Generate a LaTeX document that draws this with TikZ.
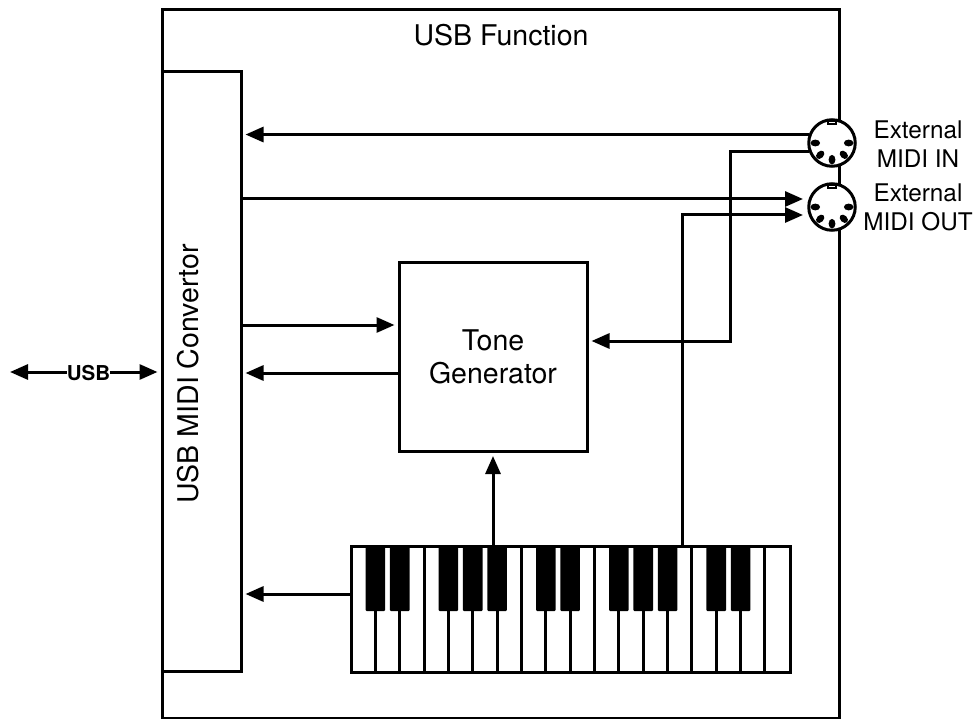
\documentclass[tikz,border=0pt]{standalone}
\usepackage{fontspec}
\setmainfont{TeX Gyre Heros}
\usetikzlibrary{arrows.meta}
\tikzstyle{block}=[rectangle, draw, line width=3pt, inner sep=0pt]
\tikzstyle{din}=[circle, draw, fill=white, line width=3pt, inner sep=0pt, minimum size=46.5pt]
\tikzstyle{wire}=[line width=3pt]
\tikzstyle{arrow}=[wire, -{Triangle[length=18pt,width=15pt]}, shorten >=3pt]
\tikzstyle{title}=[inner sep=0pt, font=\fontsize{28.5}{32}\selectfont]
\tikzstyle{jacklabel}=[inner sep=0pt, align=center, font=\fontsize{24.3}{29}\selectfont]
\newcommand{\block}{\node[block]}
\newcommand{\din}{\node[din]}
\newcommand{\dinpins}[1]{
  \foreach \a in {0,45,90,135,180}
    \fill[shift={(#1)}, rotate=-\a] (16.7,0) ellipse (4.8 and 3.4);
  \draw[shift={(#1)}, line width=1.5pt] (-4,-22) rectangle (4,-19);
}

\begin{document}
\begin{tikzpicture}[x=1pt, y=-1pt]
\useasboundingbox (0,0) rectangle (976,719);
\block[minimum width=677pt, minimum height=708pt] (usbfunction) at (500.5,364) { };
\block[minimum width=79pt, minimum height=599pt, fill=white] (conv) at (201.5,371.5) { };
\block[minimum width=188pt, minimum height=189pt, align=center, font=\fontsize{28.5}{33}\selectfont] (tone) at (493,357) {Tone\\Generator};
\block[minimum width=439pt, minimum height=126pt] (keys) at (570.5,609) { };
\din (midiin) at (832,143) { };
\din (midiout) at (832,207) { };
\dinpins{midiin}
\dinpins{midiout}
\node[title] (functitle) at (501,35) {USB Function};
\node[title, rotate=90] (convtitle) at (188,374) {USB MIDI Convertor};
\node[jacklabel] (inlabel) at (918,144) {External\\MIDI IN};
\node[jacklabel] (outlabel) at (918,207) {External\\MIDI OUT};
\node[inner sep=0pt, font=\fontsize{20.5}{24}\selectfont\bfseries] (usb) at (88.5,373) {USB};
\foreach \i in {1,...,17}
  \draw[line width=3pt] (351+\i*24.35,546) -- (351+\i*24.35,672);
\foreach \i in {1,2,4,5,6,8,9,11,12,13,15,16}
  \fill[rounded corners=1pt] (351+\i*24.35-9.8,546) rectangle (351+\i*24.35+9.8,611);
\coordinate (usbend) at (7,372);
\coordinate (outmain) at (806,199);
\coordinate (outkeys) at (806,215);
\coordinate (keyup) at (682,546);
\coordinate (bus) at (730,341);
\coordinate (tonein) at (399,325);
\coordinate (toneout) at (399,373);
\coordinate (keyleft) at (351,594);
\coordinate (keytone) at (493,546);
\draw[arrow] (usb.west |- usbend) -- (usbend);
\draw[arrow] (usb.east |- usbend) -- (usbend -| conv.west);
\draw[arrow] (midiin.160) -- (midiin.160 -| conv.east);
\draw[arrow] (outmain -| conv.east) -- (outmain);
\draw[arrow] (keyup) |- (outkeys);
\draw[arrow] (midiin.200) -| (bus) -- (bus -| tone.east);
\draw[arrow] (tonein -| conv.east) -- (tonein -| tone.west);
\draw[arrow] (toneout -| tone.west) -- (toneout -| conv.east);
\draw[arrow] (keyleft) -- (keyleft -| conv.east);
\draw[arrow] (keytone) -- (tone.south);
\end{tikzpicture}
\end{document}
